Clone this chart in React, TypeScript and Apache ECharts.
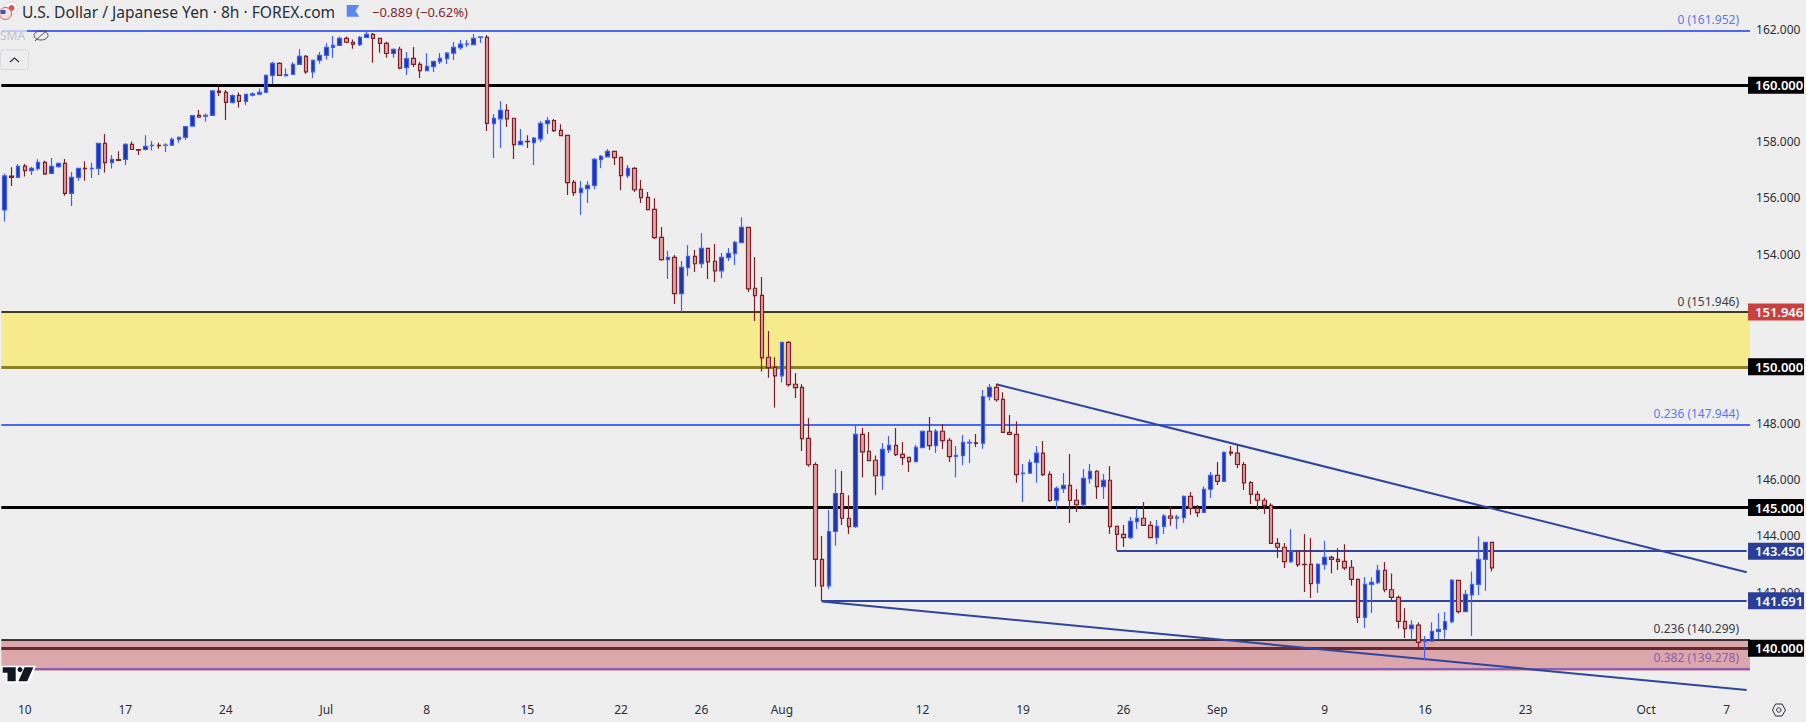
import React, { useEffect, useRef } from "react";
import * as echarts from "echarts";

const opens = [
155.57,156.77,156.73,157.13,156.97,157.04,157.26,156.87,157.11,157.23,
156.16,156.73,157.05,157.04,157.05,157.94,157.25,157.36,157.37,157.90,
157.72,157.72,157.86,157.87,157.87,157.87,158.08,158.15,158.55,158.93,
158.90,158.93,159.79,159.75,159.39,159.64,159.43,159.65,159.69,159.75,
160.35,160.78,160.34,160.39,160.74,161.03,160.48,160.89,161.06,161.35,
161.42,161.67,161.53,161.44,161.70,161.81,161.67,161.49,161.13,161.28,
160.63,160.96,160.74,160.52,160.66,160.84,160.95,161.14,161.34,161.46,
161.44,161.70,161.70,158.64,158.81,159.11,158.83,157.89,158.01,157.96,
158.10,158.64,158.75,158.40,158.22,156.55,156.19,156.33,156.44,157.36,
157.46,157.65,157.44,156.79,157.05,156.30,156.02,155.59,154.60,153.81,
153.89,152.60,153.52,153.92,153.66,154.21,153.75,153.41,153.88,154.02,
154.41,154.95,152.79,152.54,150.34,149.98,149.68,150.87,149.38,149.27,
147.46,146.53,143.16,142.22,144.15,145.50,144.62,144.32,147.60,147.00,
146.68,146.13,147.05,147.21,146.89,146.78,146.63,147.13,147.71,147.20,
147.71,147.39,146.82,146.84,147.30,147.30,147.28,148.94,149.27,148.84,
147.67,147.60,146.20,146.22,146.60,146.93,146.18,145.26,145.67,145.79,
145.26,145.10,146.03,146.29,145.74,145.97,144.33,144.05,143.93,144.50,
144.62,144.37,143.93,144.33,144.70,144.62,144.64,145.40,144.97,144.83,
145.65,146.14,145.93,146.97,146.93,146.53,145.89,145.47,145.26,145.08,
143.73,143.59,143.08,143.45,142.98,142.98,142.31,142.98,143.23,143.16,
143.09,142.88,142.45,141.10,142.27,142.33,142.77,142.08,141.81,140.96,
140.70,140.82,140.24,140.25,140.60,140.67,140.95,142.41,141.30,141.90,
142.27,143.16,143.76,
];

const closes = [
156.78,156.73,157.12,156.97,157.05,157.26,156.85,157.12,157.23,156.16,
156.73,157.05,157.04,157.05,157.94,157.25,157.37,157.33,157.90,157.72,
157.70,157.83,157.87,157.86,157.88,158.08,158.15,158.53,158.92,158.87,
158.93,159.80,159.75,159.39,159.63,159.43,159.68,159.70,159.75,160.35,
160.78,160.35,160.38,160.74,161.03,160.48,160.89,161.06,161.35,161.42,
161.67,161.53,161.46,161.70,161.81,161.67,161.49,161.13,161.28,160.61,
160.95,160.74,160.52,160.67,160.85,160.96,161.14,161.35,161.46,161.47,
161.67,161.72,158.65,158.83,159.11,158.81,157.89,158.01,158.00,158.12,
158.65,158.75,158.39,158.21,156.54,156.19,156.34,156.45,157.37,157.48,
157.65,157.43,156.79,157.05,156.29,156.01,155.58,154.59,153.81,153.89,
152.60,153.53,153.92,153.66,154.21,153.73,153.41,153.89,154.03,154.42,
154.95,152.77,152.53,150.32,149.97,149.68,150.87,149.37,149.26,147.45,
146.52,143.16,142.22,144.15,145.50,144.62,144.32,147.60,146.98,146.67,
146.13,147.07,147.21,146.88,146.77,146.63,147.14,147.71,147.20,147.71,
147.38,146.81,146.85,147.32,147.32,147.28,148.94,149.27,148.83,147.67,
147.60,146.17,146.22,146.60,146.93,146.17,145.25,145.68,145.79,145.25,
145.10,146.04,146.29,145.74,145.97,144.32,144.05,143.93,144.51,144.62,
144.37,143.93,144.33,144.70,144.62,144.66,145.40,144.97,144.82,145.65,
146.14,145.93,146.96,146.93,146.53,145.88,145.47,145.26,145.08,143.73,
143.59,143.08,143.45,142.97,142.97,142.30,142.98,143.23,143.16,143.09,
142.86,142.45,141.10,142.27,142.34,142.77,142.08,141.81,140.96,140.70,
140.82,140.21,140.29,140.60,140.67,140.95,142.41,141.30,141.92,142.27,
143.16,143.76,142.86,
];

const lows = [
155.16,156.42,156.71,156.76,156.81,156.97,156.81,156.85,157.07,156.08,
155.71,156.61,156.61,156.71,156.81,156.90,157.04,157.32,157.17,157.70,
157.52,157.68,157.68,157.75,157.63,157.84,157.96,158.06,158.53,158.85,
158.71,158.92,159.62,158.77,159.35,159.21,159.30,159.60,159.65,159.73,
160.05,160.34,160.31,160.38,160.72,160.41,160.26,160.77,160.92,160.97,
161.40,161.49,161.30,161.40,161.68,160.80,161.16,160.98,160.98,160.57,
160.37,160.65,160.26,160.52,160.47,160.76,160.76,160.90,161.25,161.36,
161.44,161.50,158.38,157.42,157.77,158.52,157.38,157.89,157.77,157.17,
157.99,158.27,158.34,158.21,156.10,156.07,155.39,155.82,156.32,157.06,
157.46,157.17,156.28,156.71,156.21,155.82,155.58,154.54,153.77,153.12,
152.23,151.95,153.23,153.37,153.51,153.12,153.01,153.15,153.76,153.62,
154.41,152.66,151.63,149.83,149.61,148.55,149.44,149.29,148.89,147.01,
146.45,142.19,141.66,142.11,143.64,144.38,144.06,144.27,146.08,146.67,
145.44,145.62,146.94,146.83,146.51,146.26,146.63,147.13,147.04,146.94,
147.08,146.62,146.08,146.51,146.58,147.15,147.09,148.80,148.76,147.67,
147.60,145.88,145.20,146.20,145.88,146.12,145.20,144.95,145.52,144.45,
144.84,145.02,145.85,145.30,145.30,144.06,143.47,143.60,143.88,144.24,
144.35,143.93,143.70,144.06,144.35,144.24,144.45,144.74,144.66,144.82,
145.34,145.80,145.92,146.83,146.40,145.62,145.13,144.91,144.77,143.73,
143.21,142.85,143.03,142.89,142.00,141.79,141.97,142.79,142.67,142.78,
142.78,142.23,140.90,140.72,141.25,142.28,141.99,141.70,140.70,140.37,
140.29,140.03,139.58,140.24,140.32,140.35,140.89,141.24,141.30,140.44,
141.89,142.04,142.74,
];

const highs = [
156.87,157.09,157.20,157.20,157.11,157.37,157.32,157.42,157.26,157.38,
156.92,157.07,157.30,157.25,157.96,158.27,157.52,157.66,157.94,158.00,
157.72,158.23,158.02,157.96,157.94,158.15,158.18,158.55,158.94,159.12,
159.00,159.83,159.97,159.83,159.68,159.74,159.69,159.75,159.89,160.38,
160.84,160.82,160.60,160.82,161.28,161.08,160.92,161.18,161.49,161.75,
161.73,161.73,161.63,161.75,161.94,161.86,161.69,161.55,161.31,161.37,
161.18,161.36,160.83,161.15,160.85,161.15,161.18,161.54,161.61,161.61,
161.82,161.72,161.79,158.98,159.44,159.33,158.83,158.45,158.23,158.16,
158.73,158.87,158.80,158.62,158.22,156.64,156.60,156.60,157.42,157.52,
157.74,157.65,157.44,157.17,157.10,156.64,156.21,155.99,154.97,154.11,
153.97,153.76,154.33,154.15,154.75,154.21,154.36,154.04,154.22,154.47,
155.31,154.95,153.90,153.19,151.27,150.34,150.87,150.92,149.78,149.38,
148.18,146.61,143.99,144.91,146.37,146.30,145.44,147.90,147.83,147.68,
146.85,147.29,147.54,147.83,147.33,146.79,147.22,147.74,148.22,147.79,
147.97,147.47,147.19,147.58,147.43,147.61,149.18,149.39,149.39,149.10,
148.29,148.07,146.55,146.71,147.19,147.36,146.29,145.75,146.23,146.90,
145.66,146.37,146.55,146.33,146.19,146.48,144.33,144.38,144.66,144.98,
145.20,144.52,144.56,144.77,145.05,144.74,145.43,145.55,145.09,145.75,
146.26,146.62,146.99,147.19,147.22,146.62,145.94,145.59,145.34,145.15,
143.92,143.74,144.24,143.49,144.06,143.92,143.02,143.82,143.29,143.55,
143.70,143.14,142.47,142.53,142.52,142.97,143.07,142.66,141.88,141.42,
141.00,140.92,140.44,140.92,141.25,141.29,142.46,142.41,142.07,142.72,
143.97,143.77,143.77,
];

const tickIndex = [3, 18, 33, 48, 63, 78, 92, 104, 116, 137, 152, 167, 181, 197, 212, 227, 245, 257];
const tickText = ["10", "17", "24", "Jul", "8", "15", "22", "26", "Aug", "12", "19", "26", "Sep", "9", "16", "23", "Oct", "7"];
const slotCount = 261;

const FONT = "'Noto Sans', sans-serif";
const BLACK = "#000000";
const NAVY = "#2f459f";

const tag = (text: string, bg: string) => ({
  show: true,
  position: "end",
  formatter: text,
  color: "#ffffff",
  backgroundColor: bg,
  fontFamily: FONT,
  fontWeight: 600,
  fontSize: 13,
  lineHeight: 17,
  height: 17,
  width: 42,
  padding: [0, 7, 0, 7],
  distance: -2,
  align: "left",
});

const fib = (text: string, color: string) => ({
  show: true,
  position: "insideEndTop",
  formatter: text,
  color,
  fontFamily: FONT,
  fontSize: 12,
  distance: [11, 5],
});

const solid = (color: string, width: number) => ({ type: "solid", color, width });
const hidden = { type: "solid", color: "rgba(0,0,0,0)", width: 1 };

const lineData: any[] = [
  { yAxis: 161.952, lineStyle: solid("#4a68f2", 2), label: fib("0 (161.952)", "#5a78f0") },
  { yAxis: 160, lineStyle: solid(BLACK, 3), label: tag("160.000", BLACK) },
  { yAxis: 151.946, lineStyle: solid(BLACK, 1.5), label: fib("0 (151.946)", "#3a3d47") },
  { yAxis: 151.946, lineStyle: hidden, label: tag("151.946", "#c9403f") },
  { yAxis: 150, lineStyle: solid("#8d8125", 3), label: tag("150.000", BLACK) },
  { yAxis: 147.944, lineStyle: solid("#4a68f2", 2), label: fib("0.236 (147.944)", "#5a78f0") },
  { yAxis: 145, lineStyle: solid(BLACK, 3), label: tag("145.000", BLACK) },
  { yAxis: 143.45, lineStyle: hidden, label: tag("143.450", "#2c3f98") },
  { yAxis: 141.691, lineStyle: hidden, label: tag("141.691", "#2c3f98") },
  { yAxis: 140.299, lineStyle: solid(BLACK, 1.5), label: fib("0.236 (140.299)", "#3a3d47") },
  { yAxis: 140, lineStyle: solid("#632a2f", 3), label: tag("140.000", BLACK) },
  { yAxis: 139.278, lineStyle: solid("#8560b8", 2), label: fib("0.382 (139.278)", "#8560b8") },
  [
    { coord: [166, 143.45], lineStyle: solid(NAVY, 2) },
    { coord: [260, 143.45] },
  ],
  [
    { coord: [122, 141.691], lineStyle: solid(NAVY, 2) },
    { coord: [260, 141.691] },
  ],
  [
    { coord: [148, 149.38], lineStyle: solid(NAVY, 2) },
    { coord: [260, 142.7] },
  ],
  [
    { coord: [122, 141.66], lineStyle: solid(NAVY, 2) },
    { coord: [260, 138.52] },
  ],
];

const areaData: any[] = [
  [{ yAxis: 151.946, itemStyle: { color: "#f5ea8c" } }, { yAxis: 149.95 }],
  [{ yAxis: 140.299, itemStyle: { color: "#dca7aa" } }, { yAxis: 139.19 }],
];

function buildOption() {
  const categories = Array.from({ length: slotCount }, (_, i) => {
    const at = tickIndex.indexOf(i);
    return at >= 0 ? tickText[at] : "";
  });
  const candles = opens.map((o, i) => [o, closes[i], lows[i], highs[i]]);
  const grey = "#2a2e39";
  return {
    animation: false,
    backgroundColor: "#eeeeee",
    textStyle: { fontFamily: FONT },
    grid: { left: 1.32, top: 0.85, width: 1748.7, height: 703.75, containLabel: false },
    xAxis: {
      type: "category",
      data: categories,
      boundaryGap: true,
      axisLine: { show: false },
      axisTick: { show: false },
      splitLine: { show: false },
      axisLabel: {
        interval: (_: number, v: string) => v !== "",
        color: grey,
        fontFamily: FONT,
        fontSize: 12,
        margin: 5,
        verticalAlign: "middle",
        hideOverlap: false,
      },
    },
    yAxis: {
      type: "value",
      position: "right",
      min: 138,
      max: 163,
      interval: 2,
      axisLine: { show: false },
      axisTick: { show: false },
      splitLine: { show: false },
      axisLabel: {
        showMinLabel: false,
        showMaxLabel: false,
        margin: 6,
        color: grey,
        fontFamily: FONT,
        fontSize: 12,
        formatter: (v: number) => v.toFixed(3),
      },
    },
    series: [
      {
        type: "candlestick",
        data: candles,
        barWidth: 4,
        z: 2,
        itemStyle: {
          color: "#22369c",
          color0: "#e2a1a1",
          borderColor: "#3f5ff5",
          borderColor0: "#7c1f27",
          borderWidth: 1.2,
        },
        markArea: { silent: true, z: 0, data: areaData },
        markLine: {
          silent: true,
          z: 1,
          symbol: ["none", "none"],
          precision: 3,
          label: { show: false },
          data: lineData,
        },
      },
    ],
    graphic: [
      { type: "rect", z: 10, shape: { x: 0, y: 27, width: 27, height: 6 }, style: { fill: "rgba(238,238,238,0.75)" } },
      { type: "circle", z: 10, shape: { cx: 11.5, cy: 8, r: 6 }, style: { fill: "#ffffff", stroke: "#e6d6d6", lineWidth: 1 } },
      { type: "circle", z: 10, shape: { cx: 11.5, cy: 8, r: 3 }, style: { fill: "#d9524f" } },
      { type: "circle", z: 11, shape: { cx: 5.5, cy: 13.5, r: 6 }, style: { fill: "#f0e4e6", stroke: "#d9524f", lineWidth: 1 } },
      { type: "rect", z: 11, shape: { x: 0.5, y: 10, width: 5, height: 4 }, style: { fill: "#3e5aa8" } },
      { type: "text", z: 12, x: 22, y: 12, style: { text: "U.S. Dollar / Japanese Yen · 8h · FOREX.com", fontFamily: FONT, fontSize: 15.6, fill: "#2a2e39", verticalAlign: "middle" } },
      { type: "polygon", z: 12, shape: { points: [[346.7, 5], [359.3, 5], [355.5, 11], [359.3, 16.7], [346.7, 16.7]] }, style: { fill: "#5b86f3" } },
      { type: "text", z: 12, x: 372, y: 12, style: { text: "−0.889 (−0.62%)", fontFamily: FONT, fontSize: 13, fill: "#7c2a30", verticalAlign: "middle" } },
      { type: "text", z: 12, x: 0, y: 35.5, style: { text: "SMA", fontFamily: FONT, fontSize: 12, fill: "#c2c3c8", verticalAlign: "middle" } },
      { type: "ellipse", z: 12, shape: { cx: 41, cy: 35.5, rx: 7, ry: 4.5 }, style: { fill: "none", stroke: "#4a4d57", lineWidth: 1 } },
      { type: "line", z: 12, shape: { x1: 35, y1: 41, x2: 47, y2: 30 }, style: { stroke: "#4a4d57", lineWidth: 1 } },
      { type: "rect", z: 12, shape: { x: 0.5, y: 50, width: 28, height: 19.5, r: 3 }, style: { fill: "#eeeeee", stroke: "#d6d7db", lineWidth: 1 } },
      { type: "polyline", z: 13, shape: { points: [[10, 62], [14.5, 58], [19, 62]] }, style: { fill: "none", stroke: "#2a2e39", lineWidth: 1.2 } },
      { type: "polygon", z: 13, shape: { points: [[1.2, 665.8], [36, 665.8], [29.3, 683.2], [6.5, 683.2], [6.5, 674.3], [1.2, 674.3]] }, style: { fill: "#ffffff" } },
      { type: "polygon", z: 14, shape: { points: [[2.7, 667.3], [15.7, 667.3], [15.7, 681.3], [7.5, 681.3], [7.5, 672.7], [2.7, 672.7]] }, style: { fill: "#131722" } },
      { type: "circle", z: 14, shape: { cx: 20, cy: 669.6, r: 2.5 }, style: { fill: "#131722" } },
      { type: "polygon", z: 14, shape: { points: [[33.4, 667.3], [27.2, 681.3], [18.4, 681.3], [24.6, 667.3]] }, style: { fill: "#131722" } },
      { type: "polygon", z: 12, shape: { points: [[1772.5, 710], [1775.5, 704], [1782, 704], [1785.5, 710], [1782, 716], [1775.5, 716]] }, style: { fill: "none", stroke: "#2a2e39", lineWidth: 1 } },
      { type: "circle", z: 12, shape: { cx: 1778.8, cy: 710, r: 2.2 }, style: { fill: "none", stroke: "#2a2e39", lineWidth: 1 } },
    ],
  };
}

export default function App() {
  const ref = useRef<HTMLDivElement | null>(null);
  useEffect(() => {
    document.body.style.margin = "0";
    document.body.style.background = "#eeeeee";
    const chart = echarts.init(ref.current as HTMLDivElement, undefined, { renderer: "svg" });
    chart.setOption(buildOption() as any);
    return () => chart.dispose();
  }, []);
  return <div ref={ref} style={{ width: 1806, height: 722 }} />;
}
